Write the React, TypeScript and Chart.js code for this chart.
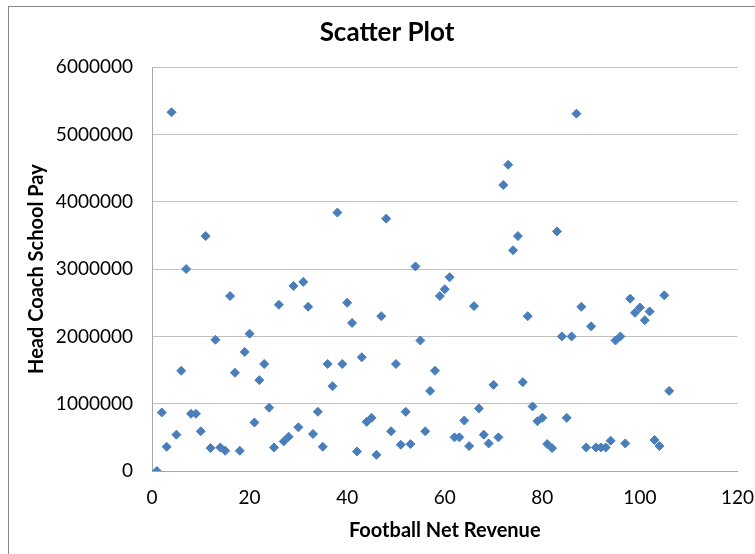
import React, { useEffect, useRef } from "react";
import { Chart, registerables } from "chart.js";

Chart.register(...registerables);

const chartTitle = "Scatter Plot";
const xAxisTitle = "Football Net Revenue";
const yAxisTitle = "Head Coach School Pay";

const netRevenue = [
  1, 2, 3, 4, 5, 6, 7, 8, 9, 10, 11, 12, 13, 14, 15, 16, 17, 18, 19, 20,
  21, 22, 23, 24, 25, 26, 27, 28, 29, 30, 31, 32, 33, 34, 35, 36, 37, 38, 39, 40,
  41, 42, 43, 44, 45, 46, 47, 48, 49, 50, 51, 52, 53, 54, 55, 56, 57, 58, 59, 60,
  61, 62, 63, 64, 65, 66, 67, 68, 69, 70, 71, 72, 73, 74, 75, 76, 77, 78, 79, 80,
  81, 82, 83, 84, 85, 86, 87, 88, 89, 90, 91, 92, 93, 94, 95, 96, 97, 98, 99, 100,
  101, 102, 103, 104, 105, 106,
];

const coachPay = [
  0, 870000, 360000, 5330000, 540000, 1490000, 3000000, 850000, 850000, 590000,
  3490000, 340000, 1950000, 350000, 300000, 2600000, 1460000, 300000, 1770000, 2040000,
  720000, 1350000, 1590000, 940000, 350000, 2470000, 440000, 510000, 2750000, 650000,
  2810000, 2440000, 550000, 880000, 360000, 1590000, 1260000, 3840000, 1590000, 2500000,
  2200000, 290000, 1690000, 730000, 790000, 240000, 2300000, 3750000, 590000, 1590000,
  390000, 880000, 400000, 3040000, 1940000, 590000, 1190000, 1490000, 2600000, 2700000,
  2880000, 500000, 500000, 750000, 370000, 2450000, 930000, 540000, 410000, 1280000,
  500000, 4250000, 4550000, 3280000, 3490000, 1320000, 2300000, 960000, 740000, 790000,
  400000, 340000, 3560000, 2000000, 790000, 2000000, 5310000, 2440000, 350000, 2150000,
  350000, 350000, 350000, 450000, 1940000, 2000000, 410000, 2560000, 2350000, 2430000,
  2240000, 2370000, 460000, 370000, 2610000, 1190000,
];

const xTickValues = [0, 20, 40, 60, 80, 100, 120];
const yTickValues = [0, 1000000, 2000000, 3000000, 4000000, 5000000, 6000000];

export default function App() {
  const canvasRef = useRef<HTMLCanvasElement | null>(null);

  useEffect(() => {
    const canvas = canvasRef.current;
    if (!canvas) return;
    const points = netRevenue.map((x, i) => ({ x, y: coachPay[i] }));
    const font = "Lato, 'Open Sans', sans-serif";
    const chart = new Chart(canvas, {
      type: "scatter",
      data: {
        datasets: [
          {
            label: "Head Coach School Pay",
            data: points,
            pointStyle: "rectRot",
            pointRadius: 4.5,
            pointBorderWidth: 1,
            backgroundColor: "#4A7EBB",
            borderColor: "#4A7EBB",
          },
        ],
      },
      options: {
        responsive: false,
        animation: false,
        layout: { padding: { left: 12, right: 16, top: 0, bottom: 0 } },
        plugins: {
          legend: { display: false },
          tooltip: { enabled: false },
          title: {
            display: true,
            text: chartTitle,
            color: "#000",
            font: { family: font, size: 26, weight: "bold" },
            padding: { top: 10, bottom: 19 },
          },
        },
        scales: {
          x: {
            type: "linear",
            min: xTickValues[0],
            max: xTickValues[xTickValues.length - 1],
            afterBuildTicks: (scale: any) => {
              scale.ticks = xTickValues.map((v) => ({ value: v }));
            },
            afterFit: (scale: any) => {
              scale.height = 83;
            },
            grid: { display: false, drawTicks: false },
            border: { display: true, color: "#A6A6A6", width: 1 },
            ticks: {
              color: "#000",
              font: { family: font, size: 19 },
              padding: 15,
              maxRotation: 0,
              callback: (v: any) => String(v),
            },
            title: {
              display: true,
              text: xAxisTitle,
              color: "#000",
              font: { family: font, size: 20, weight: "bold" },
              padding: { top: 0, bottom: 11 },
            },
          },
          y: {
            type: "linear",
            min: yTickValues[0],
            max: yTickValues[yTickValues.length - 1],
            afterBuildTicks: (scale: any) => {
              scale.ticks = yTickValues.map((v) => ({ value: v }));
            },
            afterFit: (scale: any) => {
              scale.width = 131;
            },
            grid: { display: true, color: "#C0C0C0", lineWidth: 1, drawTicks: false },
            border: { display: true, color: "#A6A6A6", width: 1 },
            ticks: {
              color: "#000",
              font: { family: font, size: 19 },
              padding: 19,
              callback: (v: any) => String(v),
            },
            title: {
              display: true,
              text: yAxisTitle,
              color: "#000",
              font: { family: font, size: 20, weight: "bold" },
              padding: { top: 4, bottom: 0 },
            },
          },
        },
      },
    });
    return () => chart.destroy();
  }, []);

  return (
    <div
      style={{
        position: "absolute",
        left: 8,
        top: 6,
        width: 746,
        height: 547,
        borderTop: "1px solid #868686",
        borderLeft: "1px solid #868686",
        background: "#fff",
        overflow: "hidden",
      }}
    >
      <canvas ref={canvasRef} width={760} height={547} style={{ display: "block" }} />
    </div>
  );
}
